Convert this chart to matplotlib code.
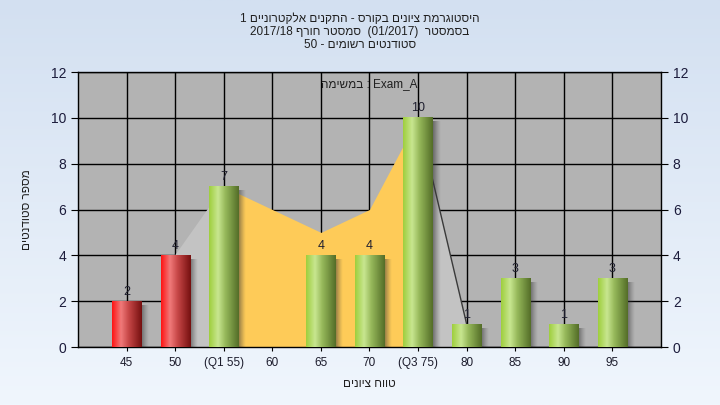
import numpy as np
import matplotlib
matplotlib.use("Agg")
import matplotlib.pyplot as plt
from matplotlib.patches import Polygon
from matplotlib.colors import LinearSegmentedColormap

plt.rcParams['font.family'] = ['Liberation Sans', 'DejaVu Sans']

# ---------------- data ----------------
categories = ['45', '50', '(Q1 55)', '60', '65', '70', '(Q3 75)', '80', '85', '90', '95']
counts = [2, 4, 7, 0, 4, 4, 10, 1, 3, 1, 3]
bar_colors = ['red', 'red', 'green', 'green', 'green', 'green', 'green', 'green', 'green', 'green', 'green']
# yellow inter-quartile area (category index -> value)
iqr_idx = [2, 3, 4, 5, 6]
iqr_vals = [7, 6, 5, 6, 10]
# light gray area segments (pairs of category indices)
gray_segments = [(1, 2), (6, 7)]
line_segment = (6, 7)
yticks = [0, 2, 4, 6, 8, 10, 12]

title_lines = ['היסטוגרמת ציונים בקורס - התקנים אלקטרוניים 1',
               'בסמסטר  (01/2017)  סמסטר חורף 2017/18',
               'סטודנטים רשומים - 50']
legend_text = 'Exam_A : במשימה'
xlabel = 'טווח ציונים'
ylabel = 'מספר סטודנטים'


def vis(s):
    """Convert logical RTL string to visual LTR order."""
    toks = s.split(' ')
    out = []
    for t in reversed(toks):
        if any('\u0590' <= c <= '\u05ff' for c in t):
            t = t[::-1]
        out.append(t)
    return ' '.join(out)


fig = plt.figure(figsize=(7.2, 4.05), dpi=100)

# background gradient
bg = fig.add_axes([0, 0, 1, 1], zorder=-10)
top_c = np.array([0xd3, 0xe0, 0xf1]) / 255
bot_c = np.array([0xf0, 0xf6, 0xfd]) / 255
t = np.linspace(0, 1, 256)[:, None]
grad = top_c[None, None, :] * (1 - t[:, :, None]) + bot_c[None, None, :] * t[:, :, None]
bg.imshow(np.repeat(grad, 2, axis=1), aspect='auto', extent=[0, 1, 0, 1])
bg.set_axis_off()

ax = fig.add_axes([0.1083, 0.1432, 0.8097, 0.679])
ax.set_facecolor('#b3b3b3')
x = np.arange(len(categories))

# grid
ax.set_axisbelow(True)
ax.set_xticks(x)
ax.set_yticks(yticks)
ax.grid(True, color='black', linewidth=1.0, zorder=0)

# gray areas
for a, b in gray_segments:
    poly = Polygon([(x[a], 0), (x[a], counts[a]), (x[b], counts[b]), (x[b], 0)],
                   closed=True, facecolor='#c3c3c3', edgecolor='none', zorder=1)
    ax.add_patch(poly)

# yellow IQR area
ax.fill_between([x[i] for i in iqr_idx], iqr_vals, 0, color='#fecb58', lw=0, zorder=1.5)

# dark line
a, b = line_segment
ax.plot([x[a], x[b]], [counts[a], counts[b]], color='#3a3a3a', lw=1.0, zorder=2)

# bars with gradients
bw = 0.6
bars = ax.bar(x, counts, width=bw, color='none', zorder=3)


def grad_cmap(kind):
    if kind == 'red':
        stops = [(0.0, '#ff1414'), (0.3, '#f07a7a'), (0.55, '#c84848'), (1.0, '#761010')]
    else:
        stops = [(0.0, '#9fcf3e'), (0.3, '#c8e690'), (0.55, '#96b85a'), (1.0, '#546e28')]
    return LinearSegmentedColormap.from_list(kind, stops)


cmaps = {'red': grad_cmap('red'), 'green': grad_cmap('green')}
hgrad = np.linspace(0, 1, 64)[None, :]

px_x = 12 / 583.0   # data units per pixel x
px_y = 12 / 275.0   # data units per pixel y

for bar, kind, v in zip(bars, bar_colors, counts):
    if v <= 0:
        continue
    x0 = bar.get_x()
    x1 = x0 + bar.get_width()
    # shadow
    sh = np.zeros((1, 32, 4))
    sh[..., :3] = 0.22
    sh[0, :, 3] = np.linspace(0.65, 0.0, 32) ** 1.2
    ax.imshow(sh, extent=[x1, x1 + 8 * px_x, 0, v - 4 * px_y], aspect='auto',
              zorder=2.5, interpolation='bilinear')
    ax.imshow(hgrad, cmap=cmaps[kind], extent=[x0, x1, 0, v], aspect='auto',
              zorder=3, interpolation='bilinear')
    ax.text(bar.get_x() + bar.get_width() / 2, v + 0.15, str(v), ha='center', va='bottom',
            fontsize=9, color='#202030', zorder=4)

ax.set_xlim(-1, len(categories))
ax.set_ylim(0, 12)

ax.set_xticklabels(categories, fontsize=8.5, color='#1c1c2c')
ax.tick_params(axis='x', length=3, color='black', pad=4)
ax.tick_params(axis='y', length=5, labelsize=10, labelcolor='#1c1c3c', right=True, labelright=True)
for s in ax.spines.values():
    s.set_color('black')
    s.set_linewidth(1.0)

ax.text(0.5, 0.955, vis(legend_text), transform=ax.transAxes, ha='center', va='center',
        fontsize=8.5, color='#202020')

ax.set_xlabel(vis(xlabel), fontsize=8.5, color='#202020', labelpad=7)
ax.set_ylabel(vis(ylabel), fontsize=8.5, color='#202020')
ax.yaxis.set_label_coords(-45 / 583.0, 0.5)

for i, line in enumerate(title_lines):
    fig.text(0.5, 1 - (18.5 + 13 * i) / 405, vis(line), ha='center', va='center',
             fontsize=8.5, color='#202020')

fig.savefig('out.png', dpi=100)
